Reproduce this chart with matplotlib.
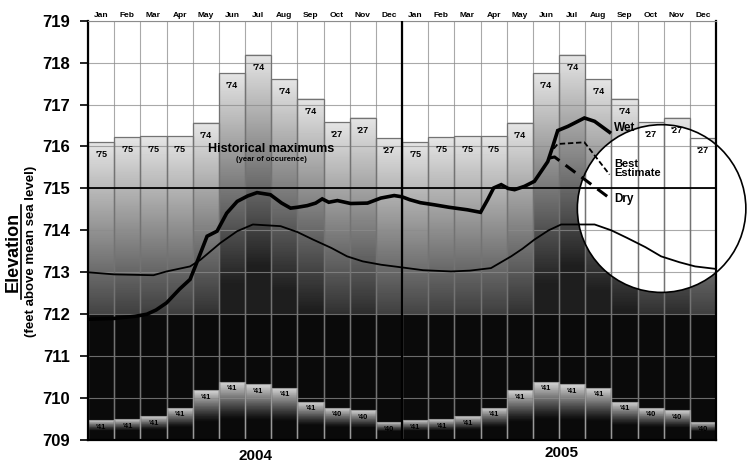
import numpy as np
import matplotlib
matplotlib.use("Agg")
import matplotlib.pyplot as plt
from matplotlib.patches import Ellipse

plt.rcParams["font.family"] = ["Liberation Sans", "DejaVu Sans"]
plt.rcParams["font.weight"] = "bold"

months = ["Jan", "Feb", "Mar", "Apr", "May", "Jun",
          "Jul", "Aug", "Sep", "Oct", "Nov", "Dec"]
years = ["2004", "2005"]

# historical monthly maximum / minimum elevation (ft) and year of occurrence
hist_max = [716.1, 716.22, 716.24, 716.24, 716.56, 717.75,
            718.18, 717.6, 717.14, 716.58, 716.68, 716.2]
hist_max_year = ["'75", "'75", "'75", "'75", "'74", "'74",
                 "'74", "'74", "'74", "'27", "'27", "'27"]
hist_min = [709.48, 709.5, 709.57, 709.77, 710.19, 710.39,
            710.33, 710.25, 709.91, 709.77, 709.71, 709.43]
hist_min_year = ["'41", "'41", "'41", "'41", "'41", "'41",
                 "'41", "'41", "'41", "'40", "'40", "'40"]

# long-term average elevation (x in months from Jan 2004)
avg_x = [0.0, 1.0, 2.5, 3.0, 3.9, 4.3, 5.06, 5.7, 6.3, 7.36, 8.0, 8.6, 9.3,
         9.9, 10.5, 11.2, 11.95, 12.8, 13.87, 14.6, 15.4, 16.17, 16.6, 17.06,
         17.6, 18.08, 19.1, 19.36, 20.0, 20.6, 21.3, 21.9, 22.6, 23.2, 24.0]
avg_y = [713.0, 712.95, 712.93, 713.02, 713.14, 713.3, 713.7, 713.98, 714.14,
         714.1, 713.96, 713.78, 713.58, 713.38, 713.26, 713.18, 713.12, 713.05,
         713.02, 713.04, 713.1, 713.38, 713.56, 713.78, 714.0, 714.14, 714.14,
         714.14, 714.0, 713.82, 713.6, 713.38, 713.24, 713.14, 713.08]

# observed elevation 2004-2005
obs_x = [0.0, 1.0, 1.8, 2.25, 2.6, 3.0, 3.5, 3.9, 4.2, 4.55, 4.93, 5.3, 5.7,
         6.1, 6.46, 6.97, 7.4, 7.74, 8.0, 8.38, 8.7, 8.95, 9.2, 9.53, 10.04,
         10.68, 11.19, 11.7, 12.0, 12.3, 12.7, 13.23, 13.8, 14.5, 15.0, 15.27,
         15.5, 15.79, 16.05, 16.3, 16.68, 17.06, 17.57, 17.76, 17.95, 18.34,
         18.97, 19.36, 19.93]
obs_y = [711.88, 711.9, 711.95, 712.0, 712.1, 712.27, 712.6, 712.83, 713.3,
         713.86, 713.98, 714.41, 714.69, 714.82, 714.9, 714.85, 714.65, 714.53,
         714.55, 714.59, 714.65, 714.75, 714.67, 714.71, 714.64, 714.65, 714.77,
         714.83, 714.8, 714.73, 714.66, 714.61, 714.55, 714.49, 714.43, 714.73,
         715.01, 715.09, 715.0, 714.97, 715.05, 715.17, 715.64, 716.0, 716.38,
         716.48, 716.68, 716.6, 716.34]

# forecasts
best_x = [17.8, 17.95, 18.97, 19.93]
best_y = [715.95, 716.06, 716.1, 715.33]
dry_x = [17.6, 17.83, 19.93]
dry_y = [715.72, 715.75, 714.77]


def main():
    fig = plt.figure(figsize=(7.53, 4.62), dpi=100)
    ax = fig.add_axes([0.1169, 0.0476, 0.834, 0.9076])

    nmon = 24
    hi_all = np.array(hist_max * 2)
    lo_all = np.array(hist_min * 2)

    # shaded band: light just below the historical max, black near the bottom
    ny = 1000
    yy = np.linspace(709, 719, ny)
    img = np.ones((ny, nmon))
    for j in range(nmon):
        hi, lo = hi_all[j], lo_all[j]
        col = np.ones(ny)
        mid = (yy <= hi) & (yy > lo)
        col[mid] = np.clip(0.9 - 0.155 * (hi - yy[mid]), 0.12, 1)
        col[mid & (yy < 712)] = 0.04
        low = yy <= lo
        frac = np.clip((yy[low] - 709.1) / (lo - 709.1), 0, 1)
        col[low] = 0.04 + 0.82 * np.clip((frac - 0.3) / 0.7, 0, 1) ** 1.2
        img[:, j] = col
    ax.imshow(img, origin="lower", extent=(0, nmon, 709, 719), cmap="gray",
              vmin=0, vmax=1, aspect="auto", interpolation="nearest", zorder=0)

    # magnifier circle (white interior)
    cx, cy, cw, ch = 21.92, 714.52, 6.44, 4.0
    ax.add_patch(Ellipse((cx, cy), cw, ch, facecolor="white",
                         edgecolor="none", zorder=0.8, clip_on=False))

    centers = np.arange(nmon) + 0.5
    ax.bar(centers, hi_all - 709, bottom=709, width=1.0, facecolor="none",
           edgecolor="0.45", lw=0.9, zorder=2)
    ax.bar(centers, lo_all - 709, bottom=709, width=1.0, facecolor="none",
           edgecolor="0.6", lw=0.8, zorder=2)
    for j in range(nmon):
        ax.text(centers[j], hi_all[j] - 0.3, hist_max_year[j % 12],
                ha="center", va="center", fontsize=6.5, zorder=3)
        ax.text(centers[j], lo_all[j] - 0.17, hist_min_year[j % 12],
                ha="center", va="center", fontsize=5.5, zorder=3)

    ax.text(7.0, 715.93, "Historical maximums", ha="center", va="center",
            fontsize=9, zorder=3)
    ax.text(7.0, 715.7, "(year of occurence)", ha="center", va="center",
            fontsize=5.5, zorder=3)

    ax.axhline(715, color="black", lw=1.3, zorder=3)
    ax.axvline(12, color="black", lw=1.6, zorder=3)

    ax.add_patch(Ellipse((cx, cy), cw, ch, facecolor="none",
                         edgecolor="black", lw=1.2, zorder=3.5, clip_on=False))

    ax.plot(avg_x, avg_y, color="black", lw=1.3, zorder=4)
    ax.plot(obs_x, obs_y, color="black", lw=2.6, zorder=4,
            solid_joinstyle="miter")
    ax.plot(best_x, best_y, color="black", lw=1.3, ls=(0, (3, 1.5)), zorder=4)
    ax.plot(dry_x, dry_y, color="black", lw=2.2, ls=(0, (4, 2.5)), zorder=4)

    ax.text(20.1, 716.43, "Wet", ha="left", va="center", fontsize=8.5, zorder=5)
    ax.text(20.1, 715.47, "Best\nEstimate", ha="left", va="center",
            fontsize=8, linespacing=0.85, zorder=5)
    ax.text(20.1, 714.74, "Dry", ha="left", va="center", fontsize=8.5, zorder=5)

    ax.set_xlim(0, nmon)
    ax.set_ylim(709, 719)

    ax.set_xticks(centers)
    ax.set_xticklabels(months * 2, fontsize=6, fontweight="bold")
    ax.set_xticks(np.arange(nmon + 1), minor=True)
    ax.tick_params(axis="x", which="both", length=0, bottom=False, top=False,
                   labelbottom=False, labeltop=True, pad=1.5)
    ax.set_yticks(np.arange(709, 720))
    ax.tick_params(axis="y", length=6, width=1.2, pad=7, labelsize=12)
    for lab in ax.get_yticklabels():
        lab.set_fontweight("bold")

    ax.set_axisbelow("line")
    ax.grid(True, which="minor", axis="x", color="0.55", lw=0.8, alpha=0.75)
    ax.grid(True, which="major", axis="y", color="0.55", lw=0.8, alpha=0.75)

    for side in ("left", "right", "bottom"):
        ax.spines[side].set_color("black")
        ax.spines[side].set_linewidth(1.6)
    ax.spines["top"].set_color("0.55")
    ax.spines["top"].set_linewidth(0.8)

    for k, yr in enumerate(years):
        ax.text(6.4 + 11.7 * k, 708.62 + 0.08 * k, yr, ha="center", va="center",
                fontsize=11, clip_on=False)

    fig.text(0.018, 0.455, "Elevation", rotation=90, ha="center", va="center",
             fontsize=13)
    fig.add_artist(plt.Line2D([0.0285, 0.0285], [0.352, 0.556], color="black",
                              lw=1.2))
    fig.text(0.041, 0.455, "(feet above mean sea level)", rotation=90,
             ha="center", va="center", fontsize=9.5)

    fig.savefig("out.png", dpi=100)


if __name__ == "__main__":
    main()
